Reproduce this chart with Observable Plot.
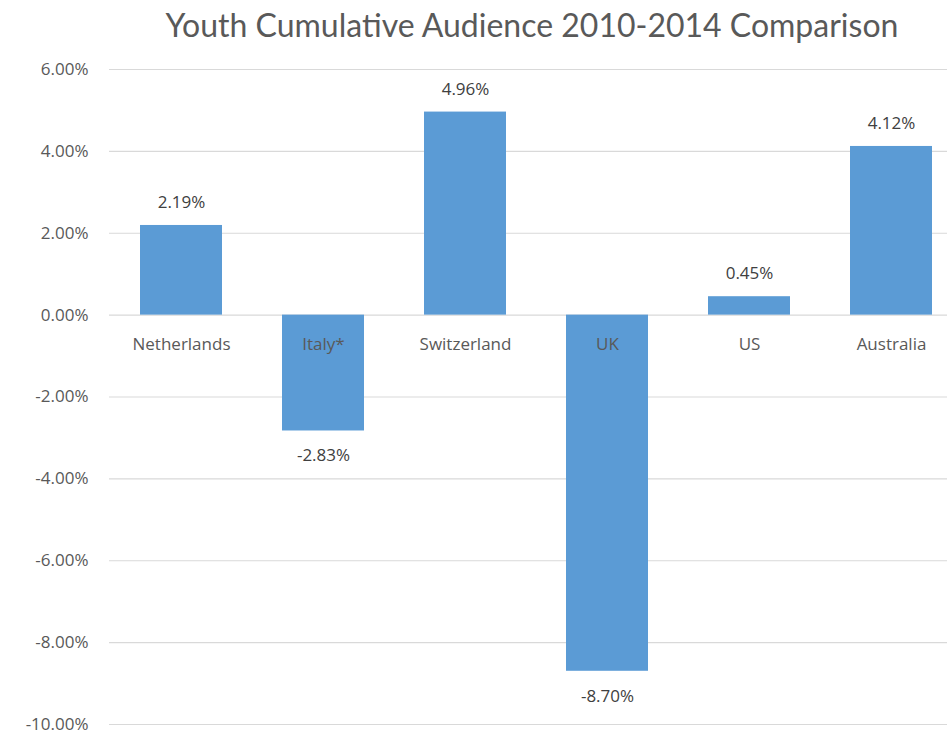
<!DOCTYPE html>
<html>
<head>
<meta charset="utf-8">
<script src="https://cdn.jsdelivr.net/npm/d3@7"></script>
<script src="https://cdn.jsdelivr.net/npm/@observablehq/plot@0.6"></script>
<style>
  body { margin: 0; background: #fff; font-family: Lato, "Open Sans", sans-serif; overflow: hidden; }
  #title { height: 49px; line-height: 49px; font-size: 32px; color: #595959; text-align: center; padding-left: 117px; box-sizing: border-box; width: 947px; white-space: nowrap; }
  svg { display: block; }
</style>
</head>
<body>
<div id="title">Youth Cumulative Audience 2010-2014 Comparison</div>
<div id="chart"></div>
<script>
const countries = ["Netherlands", "Italy*", "Switzerland", "UK", "US", "Australia"];
const values = [2.19, -2.83, 4.96, -8.70, 0.45, 4.12];
const yTicks = [6, 4, 2, 0, -2, -4, -6, -8, -10];

const data = countries.map((c, i) => ({country: c, value: values[i]}));
const fmt = v => v.toFixed(2) + "%";
const small = "'Open Sans', sans-serif";

const plot = Plot.plot({
  width: 947,
  height: 686,
  marginTop: 20,
  marginBottom: 11,
  marginLeft: 109,
  marginRight: -16,
  style: {fontFamily: small, background: "#fff", overflow: "hidden"},
  x: {domain: countries, paddingInner: 0.42, paddingOuter: 0.21, axis: null},
  y: {domain: [-10, 6], axis: null},
  marks: [
    Plot.ruleY(yTicks, {stroke: "#d9d9d9", strokeWidth: 1.2}),
    Plot.barY(data, {x: "country", y: "value", fill: "#5B9BD5"}),
    Plot.axisY({ticks: yTicks, label: null, tickSize: 0, tickPadding: 21, tickFormat: fmt, fontSize: 17, fill: "#595959", letterSpacing: "0.5px"}),
    Plot.text(data, {x: "country", y: 0, text: "country", dy: 29, fontSize: 17, fill: "#595959", letterSpacing: "0.6px"}),
    Plot.text(data.filter(d => d.value >= 0), {x: "country", y: "value", text: d => fmt(d.value), dy: -23, fontSize: 17, fill: "#404040", letterSpacing: "0.5px"}),
    Plot.text(data.filter(d => d.value < 0), {x: "country", y: "value", text: d => fmt(d.value), dy: 25, fontSize: 17, fill: "#404040", letterSpacing: "0.5px"})
  ]
});
document.getElementById("chart").appendChild(plot);
</script>
</body>
</html>
